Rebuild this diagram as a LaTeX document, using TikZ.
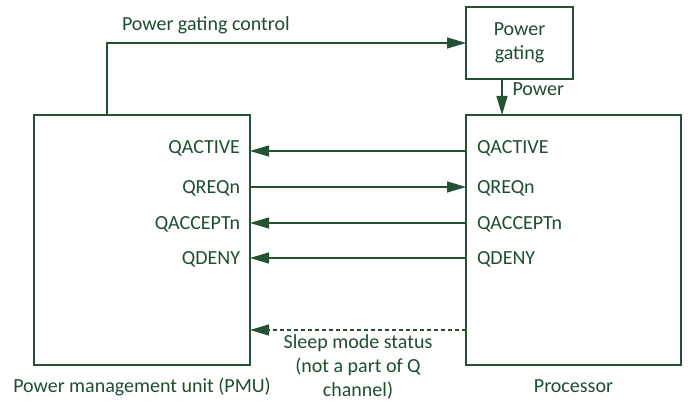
\documentclass[tikz,border=0pt]{standalone}
\usepackage{fontspec}
\setmainfont{Carlito}
\usetikzlibrary{arrows.meta}
\definecolor{txtgreen}{RGB}{31,78,47}
\definecolor{lngreen}{RGB}{38,82,52}
\begin{document}
\begin{tikzpicture}[x=1pt,y=-1pt,
  every node/.style={font=\fontsize{20pt}{24pt}\selectfont, text=txtgreen, inner sep=0pt, outer sep=0pt},
  blockbox/.style={draw=lngreen, line width=1.2pt, rectangle},
  arr/.style={draw=lngreen, line width=1.2pt, -{Triangle[length=19pt,width=11pt]}},
  sig/.style={anchor=base east},
  sigr/.style={anchor=base west}]
\useasboundingbox (0,0) rectangle (688,403);
\fill[white] (0,0) rectangle (688,403);
% blocks
\node[blockbox, minimum width=216pt, minimum height=250pt] (pmu) at (142,240) {};
\node[blockbox, minimum width=215pt, minimum height=250pt] (proc) at (573.5,240) {};
\node[blockbox, minimum width=107pt, minimum height=72pt, align=center] (pg) at (519.5,43) {Power\\gating};
% row coordinates
\coordinate (r1) at (0,151);
\coordinate (r2) at (0,187);
\coordinate (r3) at (0,223);
\coordinate (r4) at (0,258);
\coordinate (r5) at (0,330);
\coordinate (cx) at (107,0);
\coordinate (px) at (502,0);
% signals
\draw[arr] (proc.west |- r1) -- (pmu.east |- r1);
\draw[arr] (pmu.east |- r2) -- (proc.west |- r2);
\draw[arr] (proc.west |- r3) -- (pmu.east |- r3);
\draw[arr] (proc.west |- r4) -- (pmu.east |- r4);
\draw[arr, dash pattern=on 4pt off 3pt] (proc.west |- r5) -- (pmu.east |- r5);
% power gating control
\draw[arr] (pmu.north -| cx) |- (pg.west);
\draw[arr] (pg.south -| px) -- (proc.north -| px);
% labels
\node[sig] (l1) at (240,153.5) {QACTIVE};
\node[sig] (l2) at (240,193.5) {QREQn};
\node[sig] (l3) at (240,229.5) {QACCEPTn};
\node[sig] (l4) at (240,264.5) {QDENY};
\node[sigr] (m1) at (477,153.5) {QACTIVE};
\node[sigr] (m2) at (477,193.5) {QREQn};
\node[sigr] (m3) at (477,229.5) {QACCEPTn};
\node[sigr] (m4) at (477,264.5) {QDENY};
\node[anchor=base west] (ctl) at (122,31) {Power gating control};
\node[anchor=base west] (pw) at (512.5,96) {Power};
\node[anchor=base] (pmul) at (142,392) {Power management unit (PMU)};
\node[anchor=base] (procl) at (573.5,392) {Processor};
\node[align=center, anchor=base] (sleep) at (358,396.5) {Sleep mode status\\(not a part of Q\\channel)};
\end{tikzpicture}
\end{document}
